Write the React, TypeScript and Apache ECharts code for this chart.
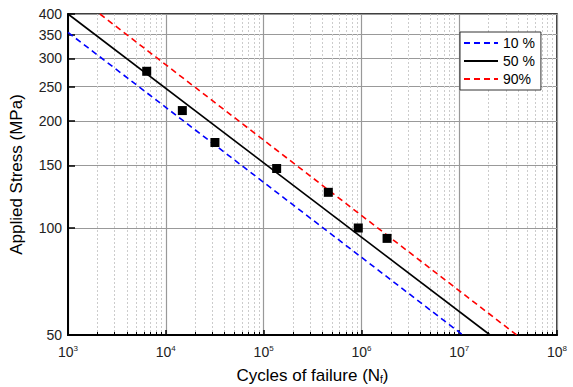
import React, { useEffect, useRef } from "react";
import * as echarts from "echarts";

// S-N curves (Basquin fits) for 10 %, 50 % and 90 % probability, endpoints on the plot frame
const line10: [number, number][] = [[1000, 355], [1.09e7, 50]];
const line50: [number, number][] = [[1000, 400], [2.07e7, 50]];
const line90: [number, number][] = [[2120, 400], [3.87e7, 50]];

// Fatigue test results: [cycles, stress MPa]
const testPoints: [number, number][] = [
  [6380, 276],
  [14760, 214],
  [31800, 174],
  [136000, 147],
  [459000, 126],
  [929000, 100],
  [1830000, 93.5],
];

const xMajor = [1e3, 1e4, 1e5, 1e6, 1e7, 1e8];
const xMinor: number[] = [];
for (let d = 3; d < 8; d++) {
  for (let m = 2; m <= 9; m++) xMinor.push(m * Math.pow(10, d));
}
const yTicks = [50, 100, 150, 200, 250, 300, 350, 400];

const FONT = "'Liberation Sans', Arial, sans-serif";

export default function App() {
  const ref = useRef<HTMLDivElement>(null);

  useEffect(() => {
    if (!ref.current) return;
    const chart = echarts.init(ref.current, undefined, { renderer: "svg" });
    chart.setOption({
      animation: false,
      textStyle: { fontFamily: FONT },
      grid: {
        left: 68,
        right: 16,
        top: 14,
        bottom: 52,
        outerBoundsMode: "none",
        containLabel: false,
        show: true,
        borderColor: "#000",
        borderWidth: 1.5,
      },
      legend: {
        orient: "vertical",
        left: 460,
        top: 32,
        itemWidth: 34,
        itemHeight: 12,
        itemGap: 4,
        padding: [4, 6, 4, 3],
        borderColor: "#333",
        borderWidth: 1,
        backgroundColor: "#fff",
        itemStyle: { opacity: 0, borderWidth: 0 },
        textStyle: { fontSize: 14, color: "#000", fontFamily: FONT },
        data: ["10 %", "50 %", "90%"],
      },
      xAxis: [
        {
          type: "log",
          logBase: 10,
          min: 1e3,
          max: 1e8,
          position: "bottom",
          name: "Cycles of failure (N{sub|f})",
          nameLocation: "middle",
          nameGap: 32,
          nameTextStyle: {
            fontSize: 17,
            color: "#000",
            fontFamily: FONT,
            rich: { sub: { fontSize: 10, color: "#000", padding: [0, 0, -7, 0] } },
          },
          axisLine: { show: true, onZero: false, lineStyle: { color: "#000", width: 2 } },
          axisTick: { show: true, inside: true, length: 5, customValues: xMajor, lineStyle: { color: "#000", width: 1.5 } },
          axisLabel: {
            show: true,
            customValues: xMajor,
            margin: 9,
            formatter: (v: number) => `{b|10}{s|${Math.round(Math.log10(v))}}`,
            rich: {
              b: { fontSize: 14, color: "#222", fontFamily: FONT },
              s: { fontSize: 8, color: "#222", fontFamily: FONT, padding: [0, 0, 8, 0] },
            },
          },
          splitLine: { show: true, lineStyle: { color: "#999", width: 1.2 } },
        },
        {
          type: "log",
          logBase: 10,
          min: 1e3,
          max: 1e8,
          position: "bottom",
          axisLine: { show: false },
          axisTick: { show: true, inside: true, length: 3, customValues: xMinor, lineStyle: { color: "#000", width: 1 } },
          axisLabel: { show: false },
          splitLine: { show: true, lineStyle: { color: "#ccc", width: 1, type: [2, 2] } },
        },
      ],
      yAxis: {
        type: "log",
        logBase: 10,
        min: 50,
        max: 400,
        name: "Applied Stress (MPa)",
        nameLocation: "middle",
        nameGap: 43,
        nameRotate: 90,
        nameTextStyle: { fontSize: 17, color: "#000", fontFamily: FONT },
        axisLine: { show: true, onZero: false, lineStyle: { color: "#000", width: 2 } },
        axisTick: { show: true, inside: true, length: 7, customValues: yTicks, lineStyle: { color: "#000", width: 1.5 } },
        axisLabel: { show: true, customValues: yTicks, margin: 6, fontSize: 14, color: "#222", fontFamily: FONT },
        splitLine: { show: true, lineStyle: { color: "#999", width: 1.2 } },
      },
      series: [
        {
          name: "10 %",
          type: "line",
          data: line10,
          symbol: "none",
          lineStyle: { color: "#0000ff", width: 1.6, type: [6, 4] },
          itemStyle: { color: "#0000ff" },
        },
        {
          name: "50 %",
          type: "line",
          data: line50,
          symbol: "none",
          lineStyle: { color: "#000", width: 1.6, type: "solid" },
          itemStyle: { color: "#000" },
        },
        {
          name: "90%",
          type: "line",
          data: line90,
          symbol: "none",
          lineStyle: { color: "#ff0000", width: 1.6, type: [6, 4] },
          itemStyle: { color: "#ff0000" },
        },
        {
          name: "tests",
          type: "scatter",
          data: testPoints,
          symbol: "rect",
          symbolSize: 9,
          itemStyle: { color: "#000", opacity: 1 },
          z: 5,
        },
      ],
    });
    return () => chart.dispose();
  }, []);

  return (
    <div
      ref={ref}
      style={{ position: "fixed", left: 0, top: 0, width: 573, height: 387, background: "#fff" }}
    />
  );
}
